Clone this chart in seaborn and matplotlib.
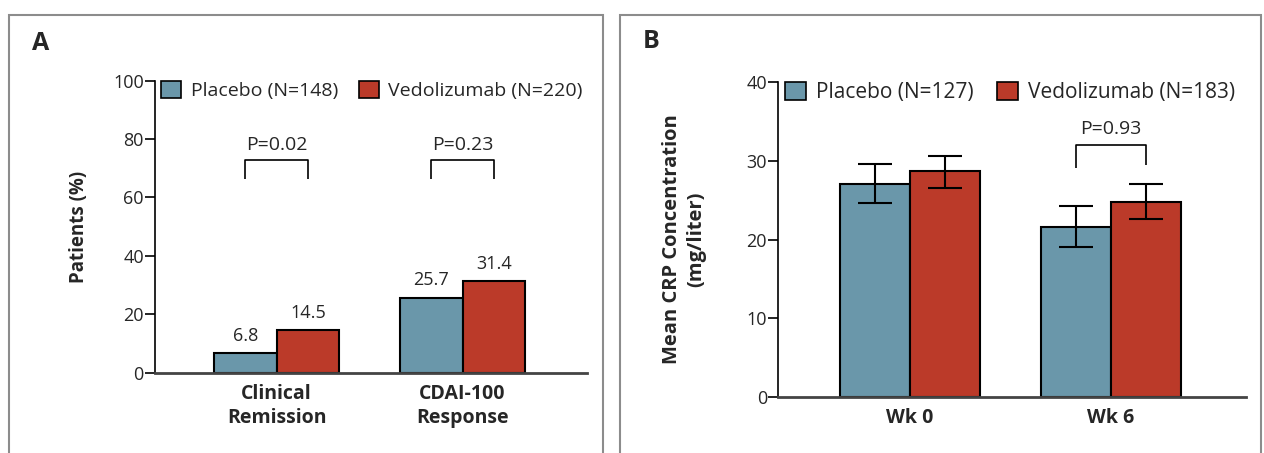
import matplotlib
matplotlib.use('Agg')
import matplotlib.pyplot as plt
from matplotlib.patches import Patch, Rectangle
import pandas as pd
import seaborn as sns

# Данные панели A
a_categories = ['Clinical\nRemission', 'CDAI-100\nResponse']
a_groups = ['Placebo (N=148)', 'Vedolizumab (N=220)']
a_placebo = [6.8, 25.7]
a_vedo = [14.5, 31.4]
a_pvalues = ['P=0.02', 'P=0.23']

# Данные панели B
b_categories = ['Wk 0', 'Wk 6']
b_groups = ['Placebo (N=127)', 'Vedolizumab (N=183)']
b_placebo = [27.0, 21.6]
b_placebo_lo = [24.6, 19.0]
b_placebo_hi = [29.6, 24.2]
b_vedo = [28.7, 24.8]
b_vedo_lo = [26.5, 22.6]
b_vedo_hi = [30.6, 27.0]
b_pvalues = ['', 'P=0.93']

colors = ['#6a97aa', '#bb3a29']

sns.set_theme(style='white')
plt.rcParams['font.family'] = ['Open Sans', 'DejaVu Sans']

df_a = pd.DataFrame({
    'category': a_categories * 2,
    'group': [a_groups[0]] * 2 + [a_groups[1]] * 2,
    'value': a_placebo + a_vedo,
})
df_b = pd.DataFrame({
    'category': b_categories * 2,
    'group': [b_groups[0]] * 2 + [b_groups[1]] * 2,
    'value': b_placebo + b_vedo,
    'lo': b_placebo_lo + b_vedo_lo,
    'hi': b_placebo_hi + b_vedo_hi,
})

fig = plt.figure(figsize=(12.64, 4.53), dpi=100)

# рамки панелей
fig.patches.append(Rectangle((9 / 1264, -0.2), (603 - 9) / 1264, 1.2 - 14.5 / 453,
                             transform=fig.transFigure, fill=False,
                             edgecolor='#8c8c8c', linewidth=1.5))
fig.patches.append(Rectangle((620 / 1264, -0.2), (1261 - 620) / 1264, 1.2 - 15 / 453,
                             transform=fig.transFigure, fill=False,
                             edgecolor='#8c8c8c', linewidth=1.5))
fig.text(32 / 1264, 1 - 44 / 453, 'A', fontsize=18, fontweight='bold', va='center')
fig.text(643 / 1264, 1 - 41 / 453, 'B', fontsize=18, fontweight='bold', va='center')

ax_a = fig.add_axes([0.1226, 0.1772, 0.3418, 0.6447])
ax_b = fig.add_axes([0.6155, 0.1229, 0.3700, 0.6968])


def style_axes(ax, ymax, step):
    sns.despine(ax=ax)
    ax.spines['left'].set_color('black')
    ax.spines['left'].set_linewidth(1.2)
    ax.spines['bottom'].set_color('#444444')
    ax.spines['bottom'].set_linewidth(2)
    ax.set_ylim(0, ymax)
    ax.set_yticks(range(0, ymax + 1, step))
    ax.set_xlim(-0.655, 1.67)
    ax.tick_params(axis='y', left=True, length=7, width=1.2, pad=1,
                   labelsize=13, color='black')
    ax.tick_params(axis='x', length=0, pad=8)
    for lab in ax.get_xticklabels():
        lab.set_fontweight('bold')
        lab.set_fontsize(14)
        lab.set_linespacing(1.3)
    ax.set_xlabel('')


def legend(ax, groups, size):
    handles = [Patch(facecolor=c, edgecolor='black', linewidth=1.2) for c in colors]
    ax.legend(handles, groups, loc='upper left', bbox_to_anchor=(0.015, 1.0),
              ncol=2, frameon=False, fontsize=size, borderpad=0, borderaxespad=0,
              handlelength=1.0, handleheight=1.0, handletextpad=0.5,
              columnspacing=1.1)


def bracket(ax, c0, c1, ylow_l, ylow_r, ytop, text):
    ax.plot([c0, c0, c1, c1], [ylow_l, ytop, ytop, ylow_r],
            color='black', linewidth=1.2, solid_capstyle='butt')
    ax.text((c0 + c1) / 2, ytop + (ax.get_ylim()[1] * 0.02), text,
            ha='center', va='bottom', fontsize=14)


# Панель A
sns.barplot(data=df_a, x='category', y='value', hue='group', palette=colors,
            saturation=1, width=0.675, gap=0, edgecolor='black', linewidth=1.5,
            errorbar=None, legend=False, ax=ax_a)
style_axes(ax_a, 100, 20)
ax_a.set_ylabel('Patients (%)', fontsize=13.5, fontweight='bold', labelpad=17)
for cont in ax_a.containers:
    ax_a.bar_label(cont, fmt='%.1f', padding=6, fontsize=13)
legend(ax_a, a_groups, 14)
pl_a = ax_a.containers[0].patches
ve_a = ax_a.containers[1].patches
for i, p in enumerate(a_pvalues):
    c0 = pl_a[i].get_x() + pl_a[i].get_width() / 2
    c1 = ve_a[i].get_x() + ve_a[i].get_width() / 2
    bracket(ax_a, c0, c1, 66.5, 66.5, 73, p)

# Панель B
sns.barplot(data=df_b, x='category', y='value', hue='group', palette=colors,
            saturation=1, width=0.695, gap=0, edgecolor='black', linewidth=1.5,
            errorbar=None, legend=False, ax=ax_b)
style_axes(ax_b, 40, 10)
ax_b.set_ylabel('Mean CRP Concentration\n(mg/liter)', fontsize=14.5,
                fontweight='bold', labelpad=29, linespacing=1.25)
for cont, g in zip(ax_b.containers, b_groups):
    sub = df_b[df_b['group'] == g]
    xs = [p.get_x() + p.get_width() / 2 for p in cont.patches]
    ys = sub['value'].to_numpy()
    ax_b.errorbar(xs, ys, yerr=[ys - sub['lo'].to_numpy(), sub['hi'].to_numpy() - ys],
                  fmt='none', ecolor='black', elinewidth=1.5, capsize=12.5,
                  capthick=1.5, zorder=5)
legend(ax_b, b_groups, 15)
pl_b = ax_b.containers[0].patches
ve_b = ax_b.containers[1].patches
for i, p in enumerate(b_pvalues):
    if not p:
        continue
    c0 = pl_b[i].get_x() + pl_b[i].get_width() / 2
    c1 = ve_b[i].get_x() + ve_b[i].get_width() / 2
    bracket(ax_b, c0, c1, 29.0, 29.5, 32, p)

fig.savefig('out.png', dpi=100)
